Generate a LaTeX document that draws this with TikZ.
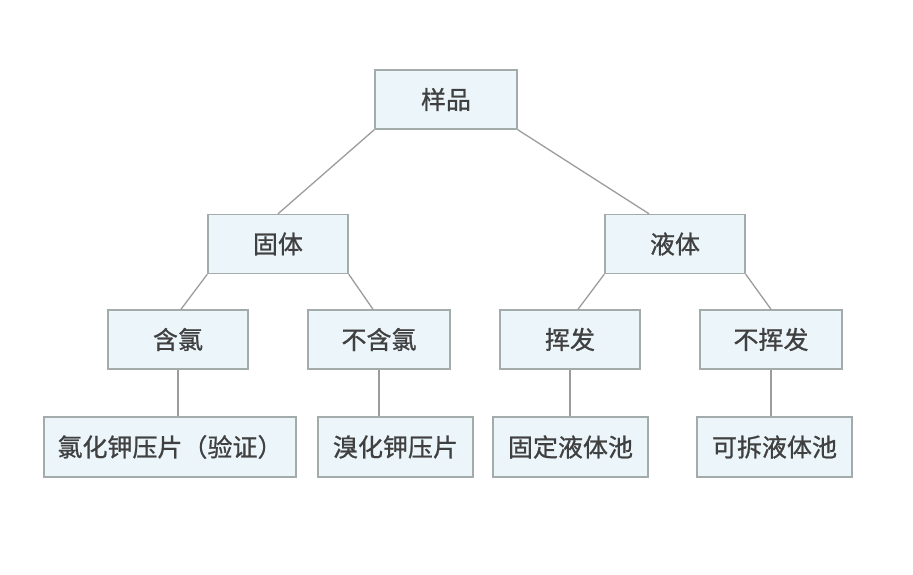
\documentclass[tikz,border=0pt]{standalone}
\usepackage{fontspec}
\newfontfamily\cjk[FakeBold=0.9]{Noto Sans CJK SC}
\usetikzlibrary{calc}
\definecolor{boxfill}{HTML}{EBF5FA}
\definecolor{boxline}{HTML}{A4ABAB}
\definecolor{txt}{HTML}{404040}
\definecolor{link}{HTML}{9C9C9C}
\begin{document}
\begin{tikzpicture}[x=1pt,y=1pt,
  box/.style={draw=boxline,fill=boxfill,line width=1.4pt,inner sep=0pt,
    minimum height=59pt,text=txt,font=\cjk\fontsize{25}{30}\selectfont},
  link/.style={draw=link,line width=1.3pt}]
\useasboundingbox (0,0) rectangle (913,575);
% 第一层
\node[box,minimum width=142pt] (sample) at (446,475.5) {样品};
% 第二层
\node[box,minimum width=140pt] (solid) at (278,331) {固体};
\node[box,minimum width=140pt] (liquid) at (675,331) {液体};
% 第三层
\node[box,minimum width=140pt] (chl) at (178,235.5) {含氯};
\node[box,minimum width=142pt] (nochl) at (379,235.5) {不含氯};
\node[box,minimum width=140pt] (vol) at (570,235.5) {挥发};
\node[box,minimum width=142pt] (novol) at (771,235.5) {不挥发};
% 第四层
\node[box,minimum width=252pt,minimum height=60pt] (kcl) at (170,128) {氯化钾压片（验证）};
\node[box,minimum width=155pt,minimum height=60pt] (kbr) at (395.5,128) {溴化钾压片};
\node[box,minimum width=155pt,minimum height=60pt] (fixed) at (570.5,128) {固定液体池};
\node[box,minimum width=155pt,minimum height=60pt] (demount) at (774.5,128) {可拆液体池};
% 连线
\draw[link] (sample.south west) -- (solid.north);
\draw[link] (sample.south east) -- ([xshift=-26pt]liquid.north);
\draw[link] (solid.south west) -- ([xshift=3pt]chl.north);
\draw[link] (solid.south east) -- ([xshift=-6pt]nochl.north);
\draw[link] (liquid.south west) -- ([xshift=8pt]vol.north);
\draw[link] (liquid.south east) -- (novol.north);
\foreach \a/\b in {chl/kcl,nochl/kbr,vol/fixed,novol/demount}
  \draw[link] (\a.south) -- (\a.south |- \b.north);
\end{tikzpicture}
\end{document}
